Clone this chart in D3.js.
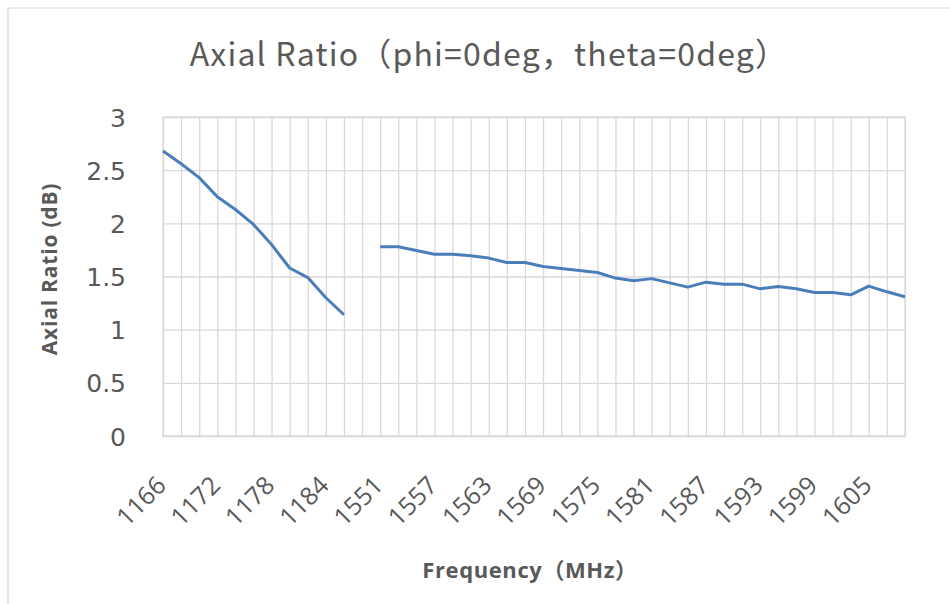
<!DOCTYPE html>
<html lang="en">
<head>
    <meta charset="UTF-8">
    <title>Axial Ratio</title>
    <style>
        body { margin: 0; background: #fff; }
        .axis-label { fill: #595959; font-weight: bold; font-family: "Open Sans", "Noto Sans CJK SC", sans-serif; }
    </style>
</head>
<body>
    <svg width="950" height="604"></svg>
    <script src="https://d3js.org/d3.v7.min.js"></script>
    <script>

        // Frequencies (MHz) and axial ratio (dB) for the two bands
        const freqLow = [1166, 1168, 1170, 1172, 1174, 1176, 1178, 1180, 1182, 1184, 1186];
        const arLow = [2.68, 2.56, 2.43, 2.25, 2.13, 1.99, 1.80, 1.58, 1.49, 1.30, 1.14];

        const freqHigh = [1551, 1553, 1555, 1557, 1559, 1561, 1563, 1565, 1567, 1569,
                          1571, 1573, 1575, 1577, 1579, 1581, 1583, 1585, 1587, 1589,
                          1591, 1593, 1595, 1597, 1599, 1601, 1603, 1605, 1607, 1609];
        const arHigh = [1.78, 1.78, 1.745, 1.71, 1.71, 1.695, 1.673, 1.632, 1.632, 1.594,
                        1.576, 1.557, 1.538, 1.485, 1.46, 1.48, 1.44, 1.40, 1.447, 1.428,
                        1.428, 1.384, 1.406, 1.384, 1.35, 1.35, 1.328, 1.41, 1.356, 1.309];

        const yTicks = [0, 0.5, 1, 1.5, 2, 2.5, 3];

        const titleText = 'Axial Ratio（phi=0deg，theta=0deg）';
        const xLabel = 'Frequency（MHz）';
        const yLabel = 'Axial Ratio (dB)';

        // one empty category sits between the bands
        const categories = freqLow.map(String).concat([' ']).concat(freqHigh.map(String));
        const data = freqLow.map((f, i) => ({ cat: String(f), v: arLow[i] }))
            .concat([{ cat: ' ', v: null }])
            .concat(freqHigh.map((f, i) => ({ cat: String(f), v: arHigh[i] })));

        const margin = { left: 163, right: 45, top: 117, bottom: 168 };

        const svg = d3.select('svg');
        const width = +svg.attr('width');
        const height = +svg.attr('height');
        const innerWidth = width - margin.left - margin.right;
        const innerHeight = height - margin.top - margin.bottom;

        // chart frame (only top and left edges are in view)
        svg.append('path')
            .attr('d', 'M8,' + height + 'V8H' + width)
            .attr('fill', 'none')
            .attr('stroke', '#d9d9d9')
            .attr('stroke-width', 1.2);

        const xScale = d3.scalePoint().domain(categories).range([0, innerWidth]);
        const yScale = d3.scaleLinear().domain([0, 3]).range([innerHeight, 0]);

        const group = svg.append('g')
            .attr('transform', 'translate(' + margin.left + ' ' + margin.top + ')');

        // vertical gridlines at every category
        const xGridG = group.append('g')
            .call(d3.axisBottom(xScale)
                .tickSize(innerHeight)
                .tickFormat(''));
        xGridG.select('.domain').remove();
        xGridG.selectAll('.tick text').remove();
        xGridG.selectAll('.tick line')
            .attr('stroke', '#d9d9d9')
            .attr('stroke-width', 1.3);

        // horizontal gridlines
        const yGridG = group.append('g')
            .call(d3.axisLeft(yScale)
                .tickValues(yTicks)
                .tickSize(-innerWidth)
                .tickFormat(''));
        yGridG.select('.domain').remove();
        yGridG.selectAll('.tick text').remove();
        yGridG.selectAll('.tick line')
            .attr('stroke', '#d9d9d9')
            .attr('stroke-width', 1.3);

        // y tick labels
        const yAxisG = group.append('g')
            .call(d3.axisLeft(yScale)
                .tickValues(yTicks)
                .tickFormat(d3.format('~g'))
                .tickSize(0)
                .tickPadding(37))
            .attr('font-family', 'DejaVu Sans, sans-serif')
            .attr('font-size', 25);
        yAxisG.select('.domain').remove();
        yAxisG.selectAll('.tick text')
            .attr('fill', '#595959')
            .attr('dy', '0.36em');

        // x tick labels every third category, rotated
        const xAxisG = group.append('g')
            .attr('transform', 'translate(0 ' + innerHeight + ')')
            .call(d3.axisBottom(xScale)
                .tickValues(categories.filter((d, i) => i % 3 === 0))
                .tickSize(0))
            .attr('font-family', 'Open Sans, sans-serif')
            .attr('font-size', 25)
            .attr('text-anchor', 'end');
        xAxisG.select('.domain').remove();
        xAxisG.selectAll('.tick text')
            .attr('fill', '#595959')
            .attr('dy', 0)
            .attr('y', 0)
            .attr('x', 0)
            .attr('transform', 'translate(4 51) rotate(-45)');

        // plot border
        group.append('rect')
            .attr('width', innerWidth)
            .attr('height', innerHeight)
            .attr('fill', 'none')
            .attr('stroke', '#d9d9d9')
            .attr('stroke-width', 1.3);

        const line = d3.line()
            .defined(d => d.v !== null)
            .x(d => xScale(d.cat))
            .y(d => yScale(d.v));

        group.append('path')
            .datum(data)
            .attr('d', line)
            .attr('fill', 'none')
            .attr('stroke', '#4a7ebb')
            .attr('stroke-width', 3)
            .attr('stroke-linejoin', 'round');

        // titles
        svg.append('text')
            .text(titleText)
            .attr('x', 489)
            .attr('y', 66)
            .attr('text-anchor', 'middle')
            .attr('font-family', 'Noto Sans CJK SC, sans-serif')
            .attr('font-size', 32)
            .attr('letter-spacing', 1.2)
            .attr('fill', '#595959');

        svg.append('text')
            .text(xLabel)
            .attr('class', 'axis-label')
            .attr('x', 530)
            .attr('y', 578)
            .attr('text-anchor', 'middle')
            .attr('font-size', 22)
            .attr('letter-spacing', 0.6);

        svg.append('text')
            .text(yLabel)
            .attr('class', 'axis-label')
            .attr('transform', 'translate(57 269) rotate(-90)')
            .attr('text-anchor', 'middle')
            .attr('font-size', 21)
            .attr('letter-spacing', 0.8);

    </script>
</body>
</html>
